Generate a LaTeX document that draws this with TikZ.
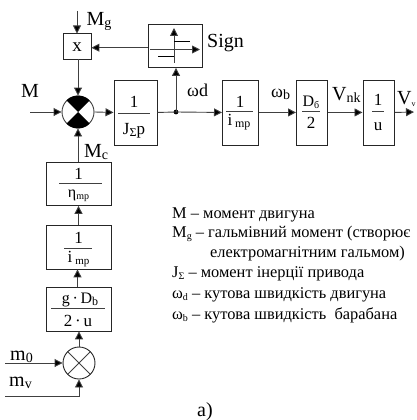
\documentclass[tikz,border=0pt]{standalone}
\usepackage{fontspec}
\setmainfont{Liberation Serif}
\usetikzlibrary{arrows.meta}
\tikzset{
 x=1pt,y=-1pt,
 blk/.style={draw=black!85,line width=.9pt,minimum width=#1,inner sep=0pt,anchor=north west},
 con/.style={draw=black!75,line width=.9pt,-{Triangle[length=8pt,width=8pt,fill=black]}},
 plain/.style={draw=black!75,line width=.9pt},
 lab/.style={inner sep=0pt,font=\fontsize{20}{20}\selectfont,anchor=base west},
 lab2/.style={inner sep=0pt,font=\fontsize{18}{18}\selectfont,anchor=base west},
 leg/.style={inner sep=0pt,font=\fontsize{16.4}{17}\selectfont,anchor=base west},
 frac/.style={inner sep=0pt,font=\fontsize{17}{17}\selectfont,anchor=base}
}
\newcommand{\sbs}[2]{\raisebox{-2pt}{\fontsize{#1}{#1}\selectfont #2}}
\begin{document}
\begin{tikzpicture}
\useasboundingbox (0,0) rectangle (416,420);
% blocks
\node[blk=28pt,minimum height=26pt] (x) at (62.5,33.5) {};
\node[font=\fontsize{19}{19}\selectfont,inner sep=0pt,anchor=base] (xt) at (77,52) {x};
\node[blk=54pt,minimum height=43pt] (sign) at (148,24) {};
\node[blk=43pt,minimum height=65pt] (j) at (113.5,79.5) {};
\node[blk=36pt,minimum height=65pt] (imp) at (222,79.5) {};
\node[blk=31pt,minimum height=65pt] (d) at (296,79.5) {};
\node[blk=31.5pt,minimum height=65pt] (u) at (362.5,79.5) {};
\node[blk=65pt,minimum height=43.5pt] (eta) at (45.5,161.5) {};
\node[blk=65pt,minimum height=43.5pt] (imp2) at (45.5,225) {};
\node[blk=65pt,minimum height=43.5pt] (g) at (45.5,287) {};
% summing junction top
\node[circle,draw=black!75,line width=.9pt,minimum size=32pt,inner sep=0pt] (s1) at (78,112) {};
\fill[black] (s1.center) -- (s1.45) -- (s1.60) -- (s1.75) -- (s1.90) -- (s1.105) -- (s1.120) -- (s1.135) -- cycle;
\fill[black] (s1.center) -- (s1.225) -- (s1.240) -- (s1.255) -- (s1.270) -- (s1.285) -- (s1.300) -- (s1.315) -- cycle;
% summing junction bottom
\node[circle,draw=black!85,line width=.9pt,minimum size=32pt,inner sep=0pt] (s2) at (79,363) {};
\draw[plain] (s2.45) -- (s2.225) (s2.135) -- (s2.315);
% free ends
\coordinate (mg) at (77,11);
\coordinate (min) at (30,112);
\coordinate (out) at (414,112);
\coordinate (dot) at (176,112);
\coordinate (m0) at (5,363);
\coordinate (mv) at (5,396.5);
\fill[black] (dot) circle (2.4pt);
% connectors
\draw[con] (mg) -- (x.north -| mg);
\draw[con] (sign.west |- 0,47.7) -- (x.east |- 0,47.7);
\draw[con] (78,59.5) -- (s1.north);
\draw[con] (min) -- (s1.west);
\draw[con] (s1.east) -- (j.west);
\draw[plain] (j.east) -- (dot);
\draw[con] (dot) -- (sign.south -| dot);
\draw[con] (dot) -- (imp.west);
\draw[con] (imp.east) -- (d.west);
\draw[con] (d.east) -- (u.west);
\draw[con] (u.east) -- (out);
\draw[con] (eta.north -| s1) -- (s1.south);
\draw[con] (imp2.north -| 78.5,0) -- (eta.south -| 78.5,0);
\draw[con] (g.north -| 77.5,0) -- (imp2.south -| 77.5,0);
\draw[con] (s2.north) -- (g.south -| s2);
\draw[con] (m0) -- (s2.west);
\draw[con] (mv) -| (s2.south);
% relay symbol
\draw[con] (174,63) -- (174,28);
\draw[con] (150,49.5) -- (200,49.5);
\draw[draw=black,line width=1.3pt] (174,41.7) -- (190,41.7) (158,56.7) -- (174,56.7);
% text
\node[lab] (tmg) at (86.5,26) {M\sbs{14}{g}};
\node[lab] (tm) at (21,97) {M};
\node[lab] (tsign) at (207,48) {Sign};
\node[lab2] (twd) at (187,96.7) {ωd};
\node[lab] (tmc) at (84,157) {M\sbs{14}{c}};
\node[lab2] (twb) at (271,97) {ω\sbs{14}{b}};
\node[lab] (tvnk) at (332,100) {V\sbs{14}{nk}};
\node[lab] (tvv) at (397,104) {V\sbs{8}{v}};
\node[lab] (tm0) at (10,360.7) {m\sbs{14}{0}};
\node[lab] (tmv) at (9,386.7) {m\sbs{14}{v}};
\node[lab] (ta) at (197,416) {a)};
% fractions
\node[frac] (f1) at (134,107) {1};
\draw[plain] (118,113) -- (150,113);
\node[frac] (f2) at (134,134) {J\sbs{12}{Σ}p};
\node[frac] (f3) at (240,107) {1};
\draw[plain] (226,111) -- (253,111);
\node[frac] (f4) at (239,125) {i\,\sbs{12}{mp}};
\node[frac,font=\fontsize{16}{16}\selectfont] (f5) at (311,106) {D\sbs{10}{б}};
\draw[plain] (302,111.7) -- (320,111.7);
\node[frac] (f6) at (311,128.5) {2};
\node[frac] (f7) at (378,105) {1};
\draw[plain] (372,111) -- (384,111);
\node[frac] (f8) at (378,130) {u};
\node[frac] (f9) at (78.5,179) {1};
\draw[plain] (59,183.3) -- (102,183.3);
\node[frac,font=\fontsize{16}{16}\selectfont] (f10) at (78.5,197) {η\sbs{10}{mp}};
\node[frac] (f11) at (78.5,243) {1};
\draw[plain] (64,248) -- (92,248);
\node[frac] (f12) at (78.5,262.7) {i\,\sbs{11}{mp}};
\node[frac,font=\fontsize{16}{16}\selectfont] (f13) at (80,303) {g\,·\,D\sbs{12}{b}};
\draw[plain] (51,308.7) -- (105,308.7);
\node[frac] (f14) at (78,326) {2\,·\,u};
% legend
\node[leg] (l1) at (172,218) {M – момент двигуна};
\node[leg] (l2) at (172,237) {M\sbs{10}{g} – гальмівний момент (створює};
\node[leg] (l3) at (210,257) {електромагнітним гальмом)};
\node[leg] (l4) at (172,277) {J\sbs{10}{Σ} – момент інерції привода};
\node[leg] (l5) at (172,298) {ω\sbs{10}{d} – кутова швидкість двигуна};
\node[leg] (l6) at (172,319) {ω\sbs{10}{b} – кутова швидкість\ \ барабана};
\end{tikzpicture}
\end{document}
